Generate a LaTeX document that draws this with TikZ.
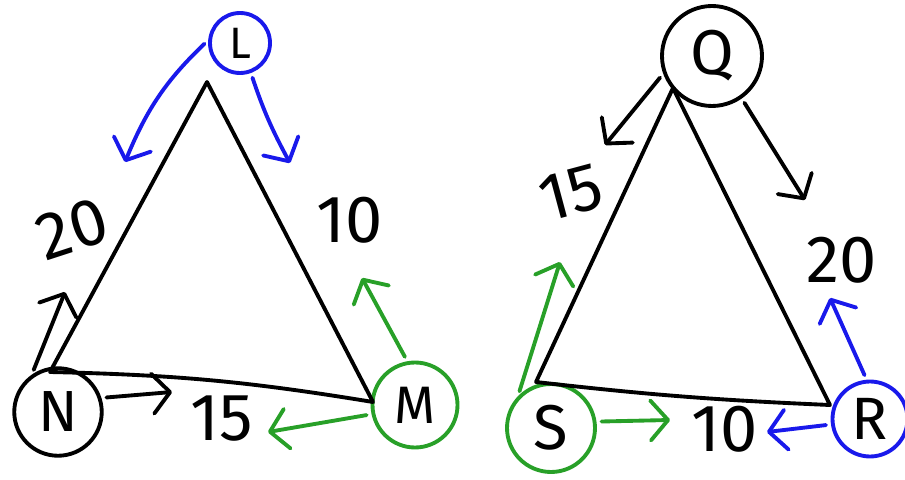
\documentclass[tikz,border=0pt]{standalone}
\usepackage{fontspec}
\setmainfont{Fira Sans}
\usepackage{xcolor}
\usepackage{tikz}
\usetikzlibrary{arrows.meta,positioning,calc}
\definecolor{penblue}{RGB}{25,25,235}
\definecolor{pengreen}{RGB}{40,160,40}
\tikzset{
  >={Straight Barb[length=3.5mm,width=8mm,round]},
  vtx/.style={draw, circle, line width=2.2pt, inner sep=0pt, font=\fontsize{30}{32}\selectfont},
  wlabel/.style={font=\fontsize{38}{40}\selectfont, inner sep=1pt},
  edge/.style={line width=2.2pt, line cap=round, line join=round},
  move/.style={->, line width=2.2pt, line cap=round, shorten <=1mm},
}

\begin{document}
\begin{tikzpicture}
  \useasboundingbox (0,0) rectangle (18.1,9.58);
  % left triangle
  \node[vtx, penblue, text=black, minimum size=1.2cm, font=\fontsize{25}{26}\selectfont] (L) at (4.8,8.72) {L};
  \node[vtx, minimum size=1.75cm, font=\fontsize{33}{34}\selectfont] (N) at (1.16,1.34) {N};
  \node[vtx, pengreen, text=black, minimum size=1.7cm] (M) at (8.3,1.48) {M};
  \coordinate (lt) at (4.14,7.94);
  \coordinate (ll) at (1.0,2.14);
  \coordinate (lr) at (7.46,1.54);
  \draw[edge] (lt) -- (ll) to[bend left=4] (lr) -- cycle;
  \node[wlabel, rotate=18] (wLN) at (1.45,5.0) {20};
  \node[wlabel] (wLM) at (7.0,5.18) {10};
  \node[wlabel] (wNM) at (4.44,1.2) {15};
  \coordinate (l1) at (2.5,6.34);
  \coordinate (l2) at (5.8,6.32);
  \coordinate (n1) at (1.3,3.74);
  \coordinate (n2) at (3.44,1.74);
  \coordinate (m1) at (7.24,4.02);
  \coordinate (m2) at (5.36,0.94);
  \draw[move, penblue] (L.175) to[bend right=12] (l1);
  \draw[move, penblue] (L.-70) to[bend right=5] (l2);
  \draw[move] (N.125) -- (n1);
  \draw[move] (N.18) -- (n2);
  \draw[move, pengreen] (M.100) -- (m1);
  \draw[move, pengreen] (M.192) -- (m2);
  % right triangle
  \node[vtx, minimum size=2cm, font=\fontsize{36}{38}\selectfont] (Q) at (14.24,8.46) {Q};
  \node[vtx, pengreen, text=black, minimum size=1.76cm, font=\fontsize{36}{38}\selectfont] (S) at (11.02,1.02) {S};
  \node[vtx, penblue, text=black, minimum size=1.5cm, font=\fontsize{34}{36}\selectfont] (R) at (17.4,1.2) {R};
  \coordinate (rt) at (13.46,7.82);
  \coordinate (rl) at (10.72,1.94);
  \coordinate (rr) at (16.6,1.48);
  \draw[edge] (rt) -- (rl) to[bend right=2] (rr) -- cycle;
  \node[wlabel, rotate=15] (wQS) at (11.42,5.72) {15};
  \node[wlabel] (wQR) at (16.84,4.38) {20};
  \node[wlabel] (wSR) at (14.5,1.0) {10};
  \coordinate (q1) at (12.1,6.68);
  \coordinate (q2) at (16.1,5.58);
  \coordinate (s1) at (11.2,4.34);
  \coordinate (s2) at (13.4,1.18);
  \coordinate (r1) at (16.6,3.62);
  \coordinate (r2) at (15.34,0.94);
  \draw[move] (Q.200) -- (q1);
  \draw[move] (Q.-55) -- (q2);
  \draw[move, pengreen] (S.136) -- (s1);
  \draw[move, pengreen] (S.8) -- (s2);
  \draw[move, penblue] (R.95) -- (r1);
  \draw[move, penblue] (R.188) -- (r2);
\end{tikzpicture}
\end{document}
